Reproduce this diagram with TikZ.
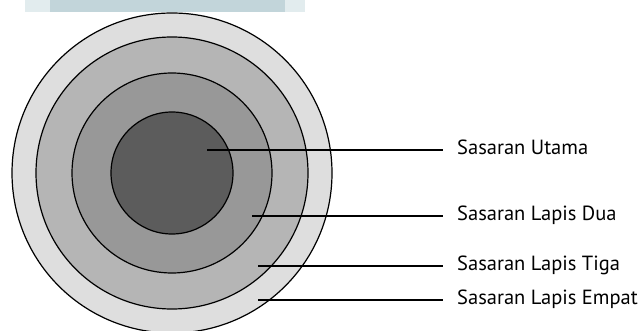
\documentclass[tikz,border=0pt]{standalone}
\usepackage{fontspec}
\setmainfont{PT Sans}
\usetikzlibrary{positioning}

\begin{document}
\begin{tikzpicture}[x=1pt, y=-1pt,
    ring/.style={draw=black, circle, line width=1.2pt, inner sep=0pt},
    lbl/.style={font=\fontsize{20.5}{22}\selectfont, anchor=west, inner xsep=14pt, inner ysep=0pt, text height=13pt, text depth=4pt},
    lead/.style={line width=1.3pt}
  ]
    \useasboundingbox (0,0) rectangle (642,331);
    % faded strip along the top edge
    \fill[color={rgb,255:red,226;green,236;blue,238}] (25,0) rectangle (305,12);
    \fill[color={rgb,255:red,194;green,213;blue,218}] (50,0) rectangle (285,12);

    \begin{scope}
      \clip (0,0) rectangle (642,331);
      \node[ring, minimum size=320pt, fill={rgb,255:red,222;green,222;blue,222}] (lapis4) at (172,173) {};
      \node[ring, minimum size=272pt, fill={rgb,255:red,181;green,181;blue,181}] (lapis3) at (172,173) {};
      \node[ring, minimum size=200pt, fill={rgb,255:red,152;green,152;blue,152}] (lapis2) at (172,173) {};
      \node[ring, minimum size=122pt, fill={rgb,255:red,92;green,92;blue,92}] (utama) at (172,173) {};
    \end{scope}

    \coordinate (pUtama) at (207,150);
    \coordinate (pDua) at (252,216);
    \coordinate (pTiga) at (258,266);
    \coordinate (pEmpat) at (258,300);

    \node[lbl] (tUtama) at (443,150) {Sasaran Utama};
    \node[lbl] (tDua) at (443,216) {Sasaran Lapis Dua};
    \node[lbl] (tTiga) at (443,266) {Sasaran Lapis Tiga};
    \node[lbl] (tEmpat) at (443,300) {Sasaran Lapis Empat};

    \draw[lead] (pUtama) -- (tUtama.west);
    \draw[lead] (pDua) -- (tDua.west);
    \draw[lead] (pTiga) -- (tTiga.west);
    \draw[lead] (pEmpat) -- (tEmpat.west);
\end{tikzpicture}
\end{document}
